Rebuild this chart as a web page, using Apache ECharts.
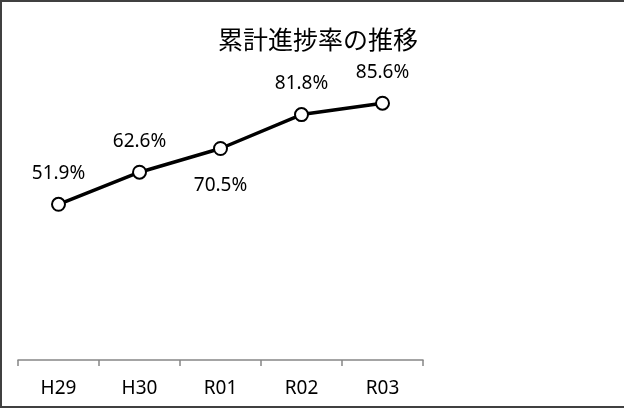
<!DOCTYPE html>
<html>
<head>
<meta charset="utf-8">
<script src="https://cdn.jsdelivr.net/npm/echarts@6/dist/echarts.min.js"></script>
<style>
  html, body { margin: 0; padding: 0; background: #fff; }
  #frame {
    position: absolute; left: 0; top: 0; width: 624px; height: 408px;
    box-sizing: border-box;
    border-left: 2px solid #404040; border-top: 2px solid #404040; border-bottom: 2px solid #404040;
  }
  #chart { position: absolute; left: 0; top: 0; width: 624px; height: 408px; }
</style>
</head>
<body>
<div id="chart"></div>
<div id="frame"></div>
<script>
// Fiscal years and cumulative progress rate (%)
const years = ['H29', 'H30', 'R01', 'R02', 'R03'];
const progressRate = [51.9, 62.6, 70.5, 81.8, 85.6];
// Labels that sit beneath their point instead of above
const labelBelow = ['R01'];

const chart = echarts.init(document.getElementById('chart'));
chart.setOption({
  animation: false,
  title: {
    text: '累計進捗率の推移',
    left: 213, top: 22,
    textStyle: { fontFamily: 'Noto Sans CJK JP', fontSize: 25, fontWeight: 'normal', color: '#000' }
  },
  grid: { left: 18, right: 201, top: 60, bottom: 48 },
  xAxis: {
    type: 'category',
    data: years,
    boundaryGap: true,
    axisLine: { lineStyle: { color: '#868686', width: 1.5 } },
    axisTick: { show: true, interval: 0, length: 6, lineStyle: { color: '#868686', width: 1.5 } },
    axisLabel: { color: '#000', fontSize: 19, fontFamily: 'Noto Sans', margin: 19 }
  },
  yAxis: {
    type: 'value', min: 0, max: 100, show: false,
    splitLine: { show: false }
  },
  series: [{
    type: 'line',
    data: progressRate.map((v, i) => ({
      value: v,
      label: { position: labelBelow.includes(years[i]) ? 'bottom' : 'top',
               distance: labelBelow.includes(years[i]) ? 20 : 14 }
    })),
    symbol: 'circle',
    symbolSize: 13,
    itemStyle: { color: '#fff', borderColor: '#000', borderWidth: 2 },
    lineStyle: { color: '#000', width: 3.5 },
    label: {
      show: true,
      formatter: p => p.value.toFixed(1) + '%',
      color: '#000', fontSize: 19, fontFamily: 'Noto Sans'
    }
  }]
});
</script>
</body>
</html>
